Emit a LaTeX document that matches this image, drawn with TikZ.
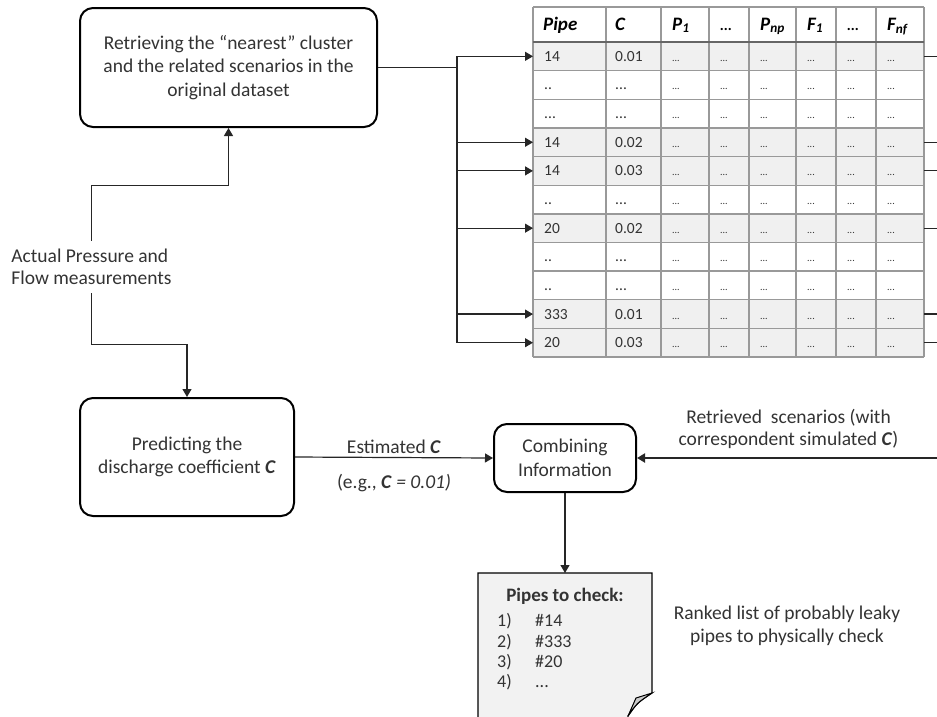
\documentclass[tikz,border=0pt]{standalone}
\usepackage{fontspec}
\setmainfont{Carlito}
\usetikzlibrary{arrows.meta}
\usetikzlibrary{calc}
\newcommand{\coef}{\textbf{\textit{C}}}
\newcommand{\threedots}{...}
\newcommand{\twodots}{..}
\colorlet{txt}{black!80}
\colorlet{rowbg}{gray!12}
\colorlet{notebg}{gray!10}
\colorlet{flapbg}{gray!40}
\colorlet{gridc}{gray!80}
\tikzset{pxl/.style={x=1pt,y=-1pt}}
\tikzset{box/.style={
  draw,
  line width=2pt,
  rounded corners=13pt,
  align=center,
  text=txt,
  font=\fontsize{19.5}{23.5}\selectfont
}}
\tikzset{lbl/.style={align=center,text=txt,font=\fontsize{19.5}{22.5}\selectfont}}
\tikzset{conn/.style={line width=1.2pt,draw=black!85}}
\tikzset{flow/.style={conn,-{Triangle[length=8pt,width=9pt]}}}
\tikzset{tabrow/.style={
  anchor=north west,
  minimum width=391pt,
  minimum height=28.64pt,
  inner sep=0pt,
  outer sep=0pt
}}
\tikzset{cell/.style={anchor=base west,inner sep=0pt,text=txt,font=\fontsize{15.5}{15.5}\selectfont}}
\tikzset{dcell/.style={cell,font=\fontsize{10}{10}\selectfont}}
\tikzset{hcell/.style={anchor=base west,inner sep=0pt,font=\fontsize{19}{19}\bfseries\itshape}}
\tikzset{gridl/.style={draw=gridc,line width=1.4pt}}

\begin{document}
\begin{tikzpicture}[pxl]
    \path[use as bounding box,clip] (0,0) rectangle (937,716);

    % Process boxes
    \node[box,minimum width=297pt,minimum height=119pt] (ret) at (228.5,67.5)
      {Retrieving the “nearest” cluster\\and the related scenarios in the\\original dataset};
    \node[box,minimum width=214pt,minimum height=118pt] (pred) at (187,457)
      {Predicting the\\discharge coefficient \coef};
    \node[box,minimum width=142pt,minimum height=68pt] (comb) at (565,458)
      {Combining\\Information};

    % Measurements
    \node[lbl,align=left,inner sep=8pt] (meas) at (91.5,267)
      {Actual Pressure and\\Flow measurements};
    \draw[flow] (meas.north) -- ++(0,-55) -| (ret.south);
    \draw[flow] (meas.south) -- ++(0,51) -| (pred.north);

    % Table rows
    \foreach \i/\p/\c/\bg in {1/14/0.01/rowbg, 2/\twodots/\threedots/white,
        3/\threedots/\threedots/white, 4/14/0.02/rowbg, 5/14/0.03/rowbg,
        6/\twodots/\threedots/white, 7/20/0.02/rowbg, 8/\twodots/\threedots/white,
        9/\twodots/\threedots/white, 10/333/0.01/rowbg, 11/20/0.03/rowbg} {
      \node[tabrow,fill=\bg] (r\i) at (533,{42+(\i-1)*28.64}) {};
      \node[cell] (p\i) at ($(r\i.west)+(11,5)$) {\p};
      \node[cell] (c\i) at ($(r\i.west)+(82,5)$) {\c};
      \foreach \cx [count=\j] in {139,187,227,274,314,354}
        \node[dcell] (d\i-\j) at ($(r\i.west)+(\cx,5)$) {\threedots};
    }

    % Table grid
    \foreach \k in {0,...,11}
      \draw[gridl] (533,{42+\k*28.64}) -- (924,{42+\k*28.64});
    \draw[gridl] (533,7) -- (924,7);
    \foreach \x in {533,606,661,709,749,796,836,876,924}
      \draw[gridl] (\x,7) -- (\x,357);
    \draw[line width=1.8pt,draw=black!60] (533,42) -- (924,42);

    % Table header
    \foreach \x/\h [count=\j] in {543/Pipe, 615/C, 672/P\textsubscript{1},
        720/{\fontsize{15}{15}\selectfont\threedots}, 760/P\textsubscript{np},
        807/F\textsubscript{1}, 847/{\fontsize{15}{15}\selectfont\threedots},
        887/F\textsubscript{nf}}
      \node[hcell] (h\j) at (\x,30) {\h};

    % Fan-out to the scenarios
    \coordinate (trk) at (457,0);
    \coordinate (rgt) at (940,0);
    \draw[conn] (ret.east) -- (trk |- ret.east);
    \draw[conn] (trk |- r1.west) -- (trk |- r11.west);
    \foreach \i in {1,4,5,7,10,11} {
      \draw[flow] (trk |- r\i.west) -- (r\i.west);
      \draw[conn] (r\i.east) -- (rgt |- r\i.east);
    }

    % Combining
    \draw[flow] (pred.east) -- (comb.west)
      node[midway,above=3pt,lbl,inner sep=0pt] (est) {Estimated \coef}
      node[midway,below=16pt,lbl,inner sep=0pt] (eg) {(e.g., \coef\ \textit{= 0.01)}};
    \draw[flow,line width=2pt] (rgt |- comb.east) -- (comb.east)
      node[midway,above=8pt,lbl,inner sep=0pt] (scen)
      {Retrieved\ \ scenarios (with\\correspondent simulated \coef)};

    % Note with folded corner
    \coordinate (note) at (565,573);
    \draw[flow] (comb.south) -- (note);
    \draw[line width=1.2pt,fill=notebg] (478,722) -- (478,573) -- (652,573) -- (652,693)
      .. controls (637,703) .. (628,716) -- (628,722) -- cycle;
    \draw[line width=1pt,fill=flapbg] (652,693) -- (636,698) -- (628,716)
      .. controls (637,703) .. (652,693) -- cycle;
    \node[lbl,font=\fontsize{19}{19}\bfseries] (ntl) at (565,596) {Pipes to check:};
    \foreach \k/\p in {1/\#14, 2/\#333, 3/\#20, 4/\threedots} {
      \node[cell,font=\fontsize{18}{18}\selectfont] (nk\k) at (497,{606.5+\k*20.3}) {\k)};
      \node[cell,font=\fontsize{18}{18}\selectfont] (np\k) at (535,{606.5+\k*20.3}) {\p};
    }
    \node[lbl] (rank) at (787,626) {Ranked list of probably leaky\\pipes to physically check};

\end{tikzpicture}
\end{document}
